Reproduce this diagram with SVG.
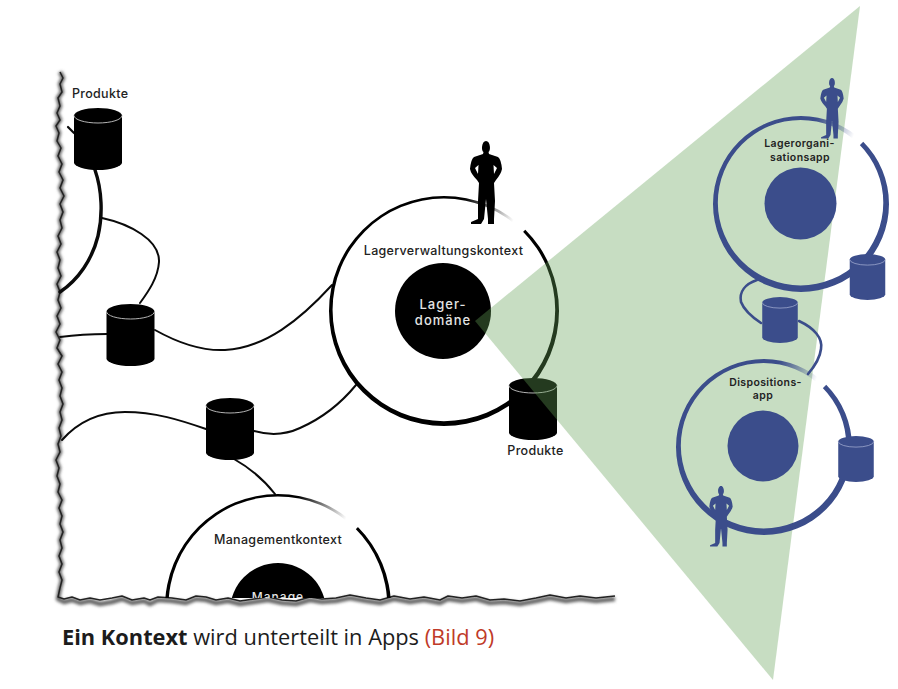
<svg xmlns="http://www.w3.org/2000/svg" width="898" height="689" viewBox="0 0 898 689">
<style>
text{font-family:"Inter","Liberation Sans",sans-serif;font-weight:500;fill:#222;font-size:12.5px}
.lbl{letter-spacing:.3px}
.mid{text-anchor:middle}
.w{fill:#e4e4e4;letter-spacing:1px;font-size:13px}
.sm{font-size:10.5px;font-weight:600;letter-spacing:.4px}
.cap{font-family:"Open Sans","Liberation Sans",sans-serif;font-size:21.8px;font-weight:400;fill:#1c1c1c}
.line{fill:none;stroke:#0a0a0a;stroke-linecap:round}
.bline{fill:none;stroke:#3b4d8b;stroke-width:2.6;stroke-linecap:round}
.k{fill:#000}.b{fill:#3b4d8b}
.kl{fill:none;stroke:#b4b4b4;stroke-width:1}
.bl{fill:none;stroke:#a4aed2;stroke-width:1}
</style>
<defs>
<linearGradient id="fade" gradientUnits="userSpaceOnUse" x1="18" y1="-98" x2="61" y2="-80" color-interpolation="sRGB"><stop offset="0" stop-color="#fff"/><stop offset="1" stop-color="#000"/></linearGradient>
<mask id="gap" maskUnits="userSpaceOnUse" x="-110" y="-110" width="220" height="220" style="color-interpolation:sRGB"><rect x="-110" y="-110" width="220" height="220" fill="#fff"/><polygon points="0,0 20,-140 150,-150" fill="url(#fade)"/></mask>
<path id="cyl" d="M-24,7.5A24,7.5 0 0 1 24,7.5V54.500A24,7.5 0 0 1 -24,54.500Z"/>
<path id="cylt" d="M-24,7.5A24,7.5 0 0 0 24,7.5"/>
<path id="man" fill-rule="evenodd" d="M-2.500,11 C-5,10 -4.500,0 0,0 C4.500,0 5,10 2.500,11 L3,13 L12,16 Q15,18 16,28 Q15,33 10,39 L8,42 L9,60 L8,78 L8,83 L2,83 L2,78 L0,58 L-2,78 L-5,83 L-15,83 L-15,81 L-8,78 L-8,60 L-7,42 L-9,39 Q-15,33 -16,28 Q-15,18 -12,16 L-3,13 Z M-11,27 L-8,33 L-7.500,24 Z M11,27 L8,33 L7.500,24 Z"/>
<path id="rk" fill-rule="evenodd" mask="url(#gap)" d="M-100,0A100,100 0 1 0 100,0A100,100 0 1 0 -100,0ZM-96.900,-1A96.800,96.800 0 1 0 96.700,-1A96.800,96.800 0 1 0 -96.900,-1Z"/>
<path id="rb" fill-rule="evenodd" mask="url(#gap)" d="M-100,0A100,100 0 1 0 100,0A100,100 0 1 0 -100,0ZM-94.500,-1.500A94,94 0 1 0 93.500,-1.500A94,94 0 1 0 -94.500,-1.500Z"/>
<filter id="blur" x="-5%" y="-5%" width="110%" height="110%"><feGaussianBlur stdDeviation="1.500"/></filter>
<filter id="soft" x="-5%" y="-5%" width="110%" height="110%"><feGaussianBlur stdDeviation=".5"/></filter>
<clipPath id="paper"><rect x="0" y="0" width="898" height="598"/></clipPath>
</defs>
<rect width="898" height="689" fill="#fff"/>
<g id="torn-edge" fill="none" stroke-linejoin="round">
<path filter="url(#blur)" stroke="#666" stroke-width="4.500" d="M60,72L63,78L60,84L62,92L58,98L60,106L57,113L60,120L56,126L59,133L57,141L61,148L58,156L62,164L59,172L63,180L60,188L64,196L60,204L63,212L60,220L62,228L58,236L61,244L57,252L60,260L58,268L61,276L57,284L60,292L58,300L61,308L57,316L60,324L56,332L60,340L57,348L62,356L58,364L62,372L59,380L62,388L60,396L63,404L60,412L62,420L59,428L61,436L58,444L60,452L56,460L59,468L57,476L60,484L58,492L62,500L59,508L62,516L60,524L63,532L60,540L62,548L59,556L62,564L59,572L62,580L60,588L58,599L64,602L72,600L80,603L90,601L100,604L112,602L122,599L132,603L144,601L150,604L158,600L172,601L186,603L196,599L206,600L216,603L228,601L240,604L254,602L268,600L282,603L296,604L310,600L322,602L336,601L350,598L366,601L380,603L394,599L410,602L424,600L440,603L448,599L462,601L476,599L490,603L504,602L520,604L536,601L550,598L566,601L580,599L596,601L615,599"/>
<path filter="url(#soft)" stroke="#222" stroke-width="1.500" d="M60,72L63,78L60,84L62,92L58,98L60,106L57,113L60,120L56,126L59,133L57,141L61,148L58,156L62,164L59,172L63,180L60,188L64,196L60,204L63,212L60,220L62,228L58,236L61,244L57,252L60,260L58,268L61,276L57,284L60,292L58,300L61,308L57,316L60,324L56,332L60,340L57,348L62,356L58,364L62,372L59,380L62,388L60,396L63,404L60,412L62,420L59,428L61,436L58,444L60,452L56,460L59,468L57,476L60,484L58,492L62,500L59,508L62,516L60,524L63,532L60,540L62,548L59,556L62,564L59,572L62,580L60,588L58,597L64,599L72,597L80,600L90,598L100,600L112,598L122,596L132,600L144,598L150,600L158,597L172,598L186,600L196,596L206,597L216,600L228,598L240,601L254,599L268,597L282,600L296,601L310,597L322,599L336,598L350,595L366,598L380,600L394,596L410,599L424,597L440,600L448,596L462,598L476,596L490,600L504,599L520,601L536,598L550,595L566,598L580,596L596,598L615,596"/>
</g>
<g id="connectors">
<path class="line" stroke-width="3.400" d="M95,170C102,190 103,215 98,236C92,260 78,280 60,292"/>
<path class="line" stroke-width="2.200" d="M68,127L74,133"/>
<path class="line" stroke-width="2" d="M102,218C130,224 160,240 159,262C158,278 148,292 140,303"/>
<path class="line" stroke-width="1.800" d="M60,337C75,335 90,334 107,334"/>
<path class="line" stroke-width="2" d="M155,330C180,344 205,351 225,350C265,348 300,320 332,285"/>
<path class="line" stroke-width="2" d="M62,440C78,422 100,412 125,412C155,412 180,420 206,429"/>
<path class="line" stroke-width="2" d="M254,431C268,435 285,435 300,428C325,417 342,402 356,385"/>
<path class="line" stroke-width="2" d="M234,459C250,468 264,480 275,494"/>
</g>
<g id="produkte-1"><use href="#cyl" x="98" y="108" class="k"/><use href="#cylt" x="98" y="108" class="kl"/><text x="72" y="98" class="lbl">Produkte</text></g>
<g id="store-2"><use href="#cyl" x="130.500" y="304" class="k"/><use href="#cylt" x="130.500" y="304" class="kl"/></g>
<g id="store-3"><use href="#cyl" x="230" y="398" class="k"/><use href="#cylt" x="230" y="398" class="kl"/></g>
<g id="lagerverwaltung">
<use href="#rk" transform="translate(444,311) scale(1.150)" class="k"/>
<text x="443.500" y="255" class="mid lbl">Lagerverwaltungskontext</text>
<circle cx="443" cy="311" r="48" class="k"/>
<text x="443" y="309" class="mid w">Lager-</text><text x="443" y="325" class="mid w">domäne</text>
<use href="#man" x="486" y="141" class="k"/>
</g>
<g id="produkte-2"><use href="#cyl" x="533" y="378" class="k"/><use href="#cylt" x="533" y="378" class="kl"/><text x="535.500" y="455" class="mid lbl">Produkte</text></g>
<g id="management" clip-path="url(#paper)">
<use href="#rk" transform="translate(278,607) scale(1.130)" class="k"/>
<text x="278" y="544" class="mid lbl">Managementkontext</text>
<circle cx="278" cy="611" r="48" class="k"/>
<text x="278" y="601" class="mid w" style="font-size:12px">Manage</text>
</g>
<polygon id="zoom-wedge" points="475,321 860,6 773,680" fill="#63a055" fill-opacity=".36"/>
<g id="blue-connectors">
<path class="bline" d="M757,280C745,284 739,292 741,302C744,310 752,317 761,323"/>
<path class="bline" d="M799,321C814,328 823,338 821,349C820,358 814,367 808,374"/>
</g>
<g id="lagerorganisationsapp">
<use href="#rb" transform="translate(801,204) scale(.880)" class="b"/>
<circle cx="800.500" cy="203.500" r="36" class="b"/>
<use href="#man" transform="translate(832,78) scale(.730)" class="b"/>
<text x="799.500" y="147" class="mid sm">Lagerorgani-</text><text x="800" y="161" class="mid sm">sationsapp</text>
</g>
<g id="store-blue-1"><use href="#cyl" transform="translate(867.500,254) scale(.740)" class="b"/><use href="#cylt" transform="translate(867.500,254) scale(.740)" class="bl"/></g>
<g id="store-blue-2"><use href="#cyl" transform="translate(780,297) scale(.740)" class="b"/><use href="#cylt" transform="translate(780,297) scale(.740)" class="bl"/></g>
<g id="dispositionsapp">
<use href="#rb" transform="translate(764,447) scale(.880)" class="b"/>
<circle cx="763" cy="446" r="35.500" class="b"/>
<use href="#man" transform="translate(721,486) scale(.730)" class="b"/>
<text x="765.500" y="386" class="mid sm">Dispositions-</text><text x="763" y="399" class="mid sm">app</text>
</g>
<g id="store-blue-3"><use href="#cyl" transform="translate(856,436) scale(.740)" class="b"/><use href="#cylt" transform="translate(856,436) scale(.740)" class="bl"/></g>
<text id="caption" x="62" y="645" class="cap"><tspan font-weight="700">Ein Kontext</tspan> wird unterteilt in Apps <tspan style="fill:#c03a28">(Bild 9)</tspan></text>
</svg>
